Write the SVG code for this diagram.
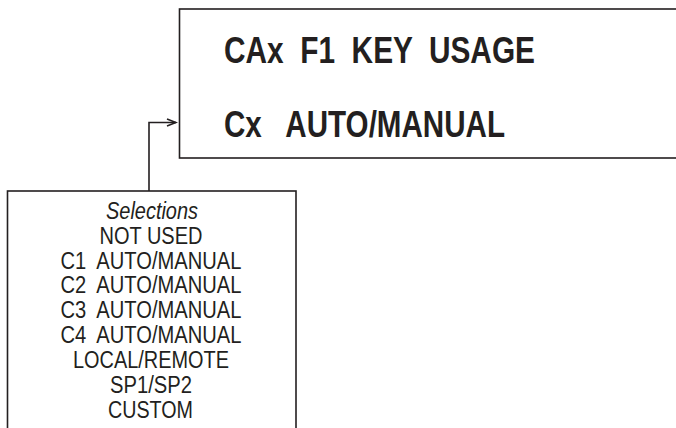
<svg xmlns="http://www.w3.org/2000/svg" width="676" height="428" viewBox="0 0 676 428">
<defs>
<style>
.box{fill:#fff;stroke:#231f20;stroke-width:1.6}
.conn{fill:none;stroke:#231f20;stroke-width:1.6}
.big{font-family:"Liberation Sans",Arial,sans-serif;font-weight:bold;font-size:36px;fill:#231f20}
.sel{font-family:"Liberation Sans",Arial,sans-serif;font-size:23px;fill:#231f20;text-anchor:middle}
</style>
<marker id="arr" markerWidth="12" markerHeight="10" refX="10" refY="5" orient="auto" markerUnits="userSpaceOnUse">
<path d="M1,1.5 L10,5 L1,8.5" fill="none" stroke="#231f20" stroke-width="1.6"/>
</marker>
</defs>
<rect width="676" height="428" fill="#fff"/>
<g id="display">
<rect class="box" x="179.5" y="9" width="520" height="149"/>
<text class="big" x="224" y="62.5" textLength="311" lengthAdjust="spacingAndGlyphs" xml:space="preserve">CAx  F1  KEY  USAGE</text>
<text class="big" x="224" y="137" textLength="281" lengthAdjust="spacingAndGlyphs" xml:space="preserve">Cx   AUTO/MANUAL</text>
</g>
<g id="selections">
<rect class="box" x="7.5" y="191" width="288.5" height="260"/>
<text class="sel" x="152" y="219" font-style="italic" textLength="92" lengthAdjust="spacingAndGlyphs">Selections</text>
<text class="sel" x="151" y="244" textLength="103" lengthAdjust="spacingAndGlyphs">NOT USED</text>
<text class="sel" x="151" y="268.5" textLength="181" lengthAdjust="spacingAndGlyphs" xml:space="preserve">C1  AUTO/MANUAL</text>
<text class="sel" x="151" y="293" textLength="181" lengthAdjust="spacingAndGlyphs" xml:space="preserve">C2  AUTO/MANUAL</text>
<text class="sel" x="151" y="318" textLength="181" lengthAdjust="spacingAndGlyphs" xml:space="preserve">C3  AUTO/MANUAL</text>
<text class="sel" x="151" y="342.5" textLength="181" lengthAdjust="spacingAndGlyphs" xml:space="preserve">C4  AUTO/MANUAL</text>
<text class="sel" x="151" y="367.5" textLength="156" lengthAdjust="spacingAndGlyphs">LOCAL/REMOTE</text>
<text class="sel" x="151" y="392.5" textLength="82" lengthAdjust="spacingAndGlyphs">SP1/SP2</text>
<text class="sel" x="150.5" y="417.5" textLength="85" lengthAdjust="spacingAndGlyphs">CUSTOM</text>
</g>
<g id="connectors">
<path class="conn" d="M149,191 V122.5 H176" marker-end="url(#arr)"/>
</g>
</svg>
